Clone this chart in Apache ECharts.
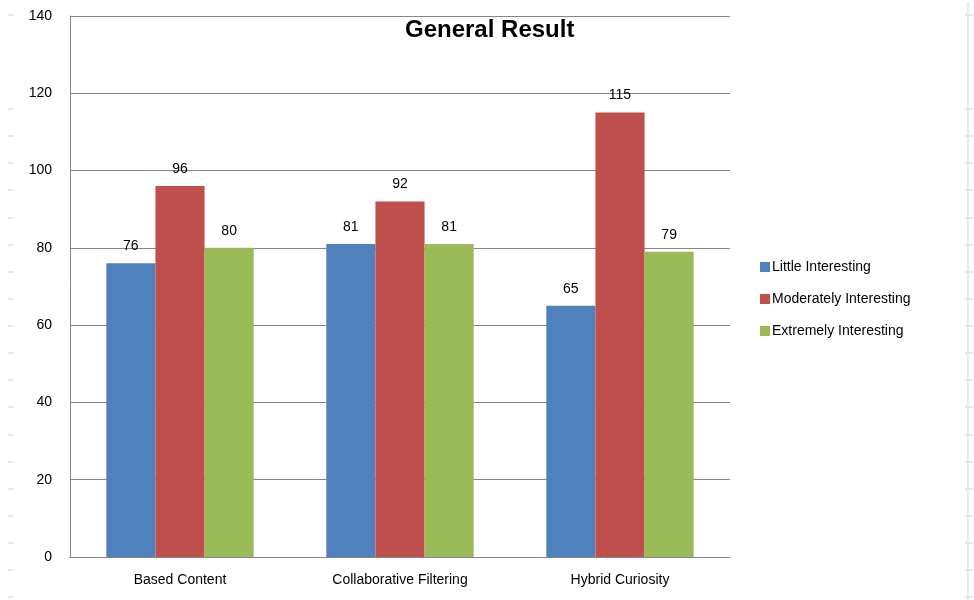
<!DOCTYPE html>
<html>
<head>
<meta charset="utf-8">
<script src="https://cdn.jsdelivr.net/npm/echarts@6/dist/echarts.min.js"></script>
<style>
html,body{margin:0;padding:0;background:#fff;}
#chart{width:974px;height:600px;}
</style>
</head>
<body>
<div id="chart"></div>
<script>
const categories = ['Based Content', 'Collaborative Filtering', 'Hybrid Curiosity'];
const littleInteresting = [76, 81, 65];
const moderatelyInteresting = [96, 92, 115];
const extremelyInteresting = [80, 81, 79];
const seriesNames = ['Little Interesting', 'Moderately Interesting', 'Extremely Interesting'];

const FONT = 'Liberation Sans, Arial, sans-serif';
const chart = echarts.init(document.getElementById('chart'));

const labelStyle = { show: true, position: 'top', distance: 10, color: '#000', fontSize: 14, fontFamily: FONT };

function bar(name, data, color) {
  return {
    name: name, type: 'bar', data: data,
    barGap: '0%', barCategoryGap: '33%',
    itemStyle: { color: color },
    label: labelStyle
  };
}

// faint sheet row markers along both page edges
const rowMarks = [15, 109, 136, 163, 190, 218, 245, 272, 299, 326, 353, 380, 407, 435, 462, 489, 516, 543, 570, 597];
const sheetGraphics = [];
const edgeStyle = { stroke: '#e2e2e2', lineWidth: 1.5 };
sheetGraphics.push({ type: 'line', shape: { x1: 968, y1: 2, x2: 968, y2: 600 }, style: edgeStyle, silent: true });
rowMarks.forEach(function (y) {
  sheetGraphics.push({ type: 'line', shape: { x1: 8, y1: y, x2: 14, y2: y }, style: edgeStyle, silent: true });
  sheetGraphics.push({ type: 'line', shape: { x1: 965, y1: y, x2: 973, y2: y }, style: edgeStyle, silent: true });
});

chart.setOption({
  animation: false,
  graphic: sheetGraphics,
  title: {
    text: 'General Result', left: 400, top: 13,
    textStyle: { fontFamily: FONT, fontSize: 24, fontWeight: 'bold', color: '#000' }
  },
  legend: {
    orient: 'vertical', left: 755, top: 255,
    itemWidth: 10, itemHeight: 10, itemGap: 18, icon: 'rect',
    data: seriesNames,
    textStyle: { fontFamily: FONT, fontSize: 14, color: '#000', padding: [0, 0, 0, -3] }
  },
  grid: { left: 70, right: 244, top: 16, bottom: 43 },
  xAxis: {
    type: 'category', data: categories,
    axisLine: { lineStyle: { color: '#868686', width: 1 } },
    axisTick: { show: false },
    axisLabel: { fontFamily: FONT, fontSize: 14, color: '#000', margin: 16 }
  },
  yAxis: {
    type: 'value', min: 0, max: 140, interval: 20,
    axisLine: { show: true, lineStyle: { color: '#868686' } },
    axisTick: { show: false },
    splitLine: { lineStyle: { color: '#868686', width: 1 } },
    axisLabel: { fontFamily: FONT, fontSize: 14, color: '#000', margin: 18 }
  },
  series: [
    bar(seriesNames[0], littleInteresting, '#4F81BD'),
    bar(seriesNames[1], moderatelyInteresting, '#C0504D'),
    bar(seriesNames[2], extremelyInteresting, '#9BBB59')
  ]
});
</script>
</body>
</html>
